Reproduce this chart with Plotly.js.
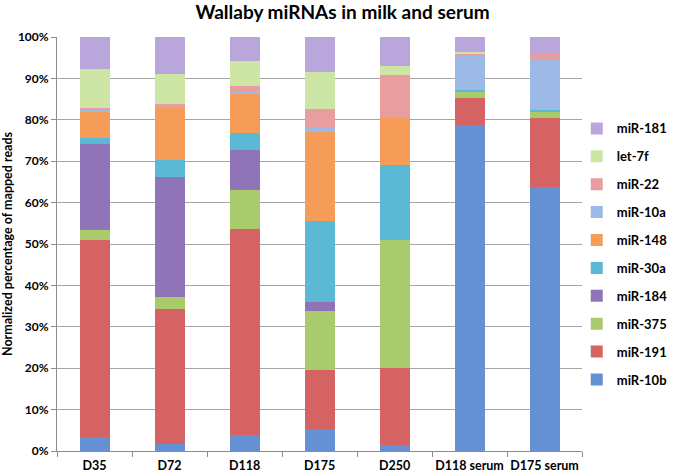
<!DOCTYPE html>
<html>
<head>
<meta charset="utf-8">
<script src="https://cdn.plot.ly/plotly-3.0.1.min.js"></script>
<style>
  html, body { margin: 0; padding: 0; background: #ffffff; }
  #chart { width: 685px; height: 474px; }
</style>
</head>
<body>
<div id="chart"></div>
<script>
// Samples (x categories)
const samples = ["D35", "D72", "D118", "D175", "D250", "D118 serum", "D175 serum"];

// Percent of mapped reads per miRNA, per sample (bottom of stack first)
const mir10b  = [3.4, 1.8, 3.8, 5.4, 1.4, 78.8, 63.7];
const mir191  = [47.6, 32.6, 49.8, 14.2, 18.6, 6.4, 16.7];
const mir375  = [2.5, 2.9, 9.5, 14.3, 31.0, 1.5, 1.4];
const mir184  = [20.7, 28.8, 9.6, 2.0, 0.0, 0.0, 0.0];
const mir30a  = [1.4, 4.1, 4.1, 19.7, 18.0, 0.5, 0.6];
const mir148  = [6.2, 12.7, 9.5, 21.4, 11.5, 0.0, 0.0];
const mir10a  = [0.5, 0.0, 0.6, 1.2, 0.0, 8.3, 12.4];
const mir22   = [0.6, 0.8, 1.2, 4.5, 10.4, 0.4, 1.0];
const let7f   = [9.3, 7.4, 6.1, 8.8, 2.0, 0.4, 0.0];
const mir181  = [7.9, 8.9, 5.8, 8.5, 7.1, 3.6, 4.2];

const seriesNames = ["miR-10b", "miR-191", "miR-375", "miR-184", "miR-30a",
                     "miR-148", "miR-10a", "miR-22", "let-7f", "miR-181"];
const seriesValues = [mir10b, mir191, mir375, mir184, mir30a,
                      mir148, mir10a, mir22, let7f, mir181];
const seriesColors = ["#6590d3", "#d66363", "#a9cb6c", "#8f74b8", "#5cb9d6",
                      "#f59c58", "#9db9e6", "#e89e9e", "#cde6a5", "#b9a7dc"];

const traces = seriesNames.map((name, i) => ({
  type: "bar",
  name: name,
  x: samples,
  y: seriesValues[i],
  legendgroup: name,
  legendrank: 1000 - i,
  marker: { color: seriesColors[i], line: { width: 0 } },
  hoverinfo: "x+y+name"
}));

const font = "Lato, 'DejaVu Sans', sans-serif";

const layout = {
  width: 685,
  height: 474,
  margin: { l: 57, r: 95, t: 37, b: 23 },
  paper_bgcolor: "#ffffff",
  plot_bgcolor: "#ffffff",
  barmode: "stack",
  bargap: 0.6,
  font: { family: font, color: "#000000" },
  title: {
    text: "<b>Wallaby miRNAs in milk and serum</b>",
    font: { family: font, size: 19, color: "#000000" },
    x: 0.5, xref: "container", xanchor: "center",
    y: 0.973, yref: "container", yanchor: "middle"
  },
  xaxis: {
    type: "category",
    showline: true, linecolor: "#8c8c8c", linewidth: 1,
    ticks: "outside", tickson: "boundaries", ticklen: 5, tickcolor: "#8c8c8c",
    ticklabelstandoff: 3,
    tickangle: 0,
    automargin: false,
    tickfont: { family: font, size: 12.5, color: "#000000", weight: "bold" },
    showgrid: false,
    zeroline: false
  },
  yaxis: {
    range: [0, 100],
    dtick: 10,
    ticksuffix: "%",
    showline: true, linecolor: "#8c8c8c", linewidth: 1,
    ticks: "outside", ticklen: 5, tickcolor: "#8c8c8c",
    tickfont: { family: font, size: 12, color: "#000000", weight: "bold" },
    showgrid: true, gridcolor: "#a6a6a6", gridwidth: 1,
    zeroline: false,
    title: {
      text: "<b>Normalized percentage of mapped reads</b>",
      font: { family: font, size: 12.5, color: "#000000" },
      standoff: 4
    }
  },
  legend: {
    x: 0.99, xanchor: "left",
    y: 0.476, yanchor: "middle",
    traceorder: "grouped",
    tracegroupgap: 8,
    font: { family: font, size: 13, color: "#000000", weight: "bold" },
    bgcolor: "rgba(0,0,0,0)",
    itemwidth: 30
  },
  showlegend: true
};

Plotly.newPlot("chart", traces, layout, { displayModeBar: false, staticPlot: true });
</script>
</body>
</html>
